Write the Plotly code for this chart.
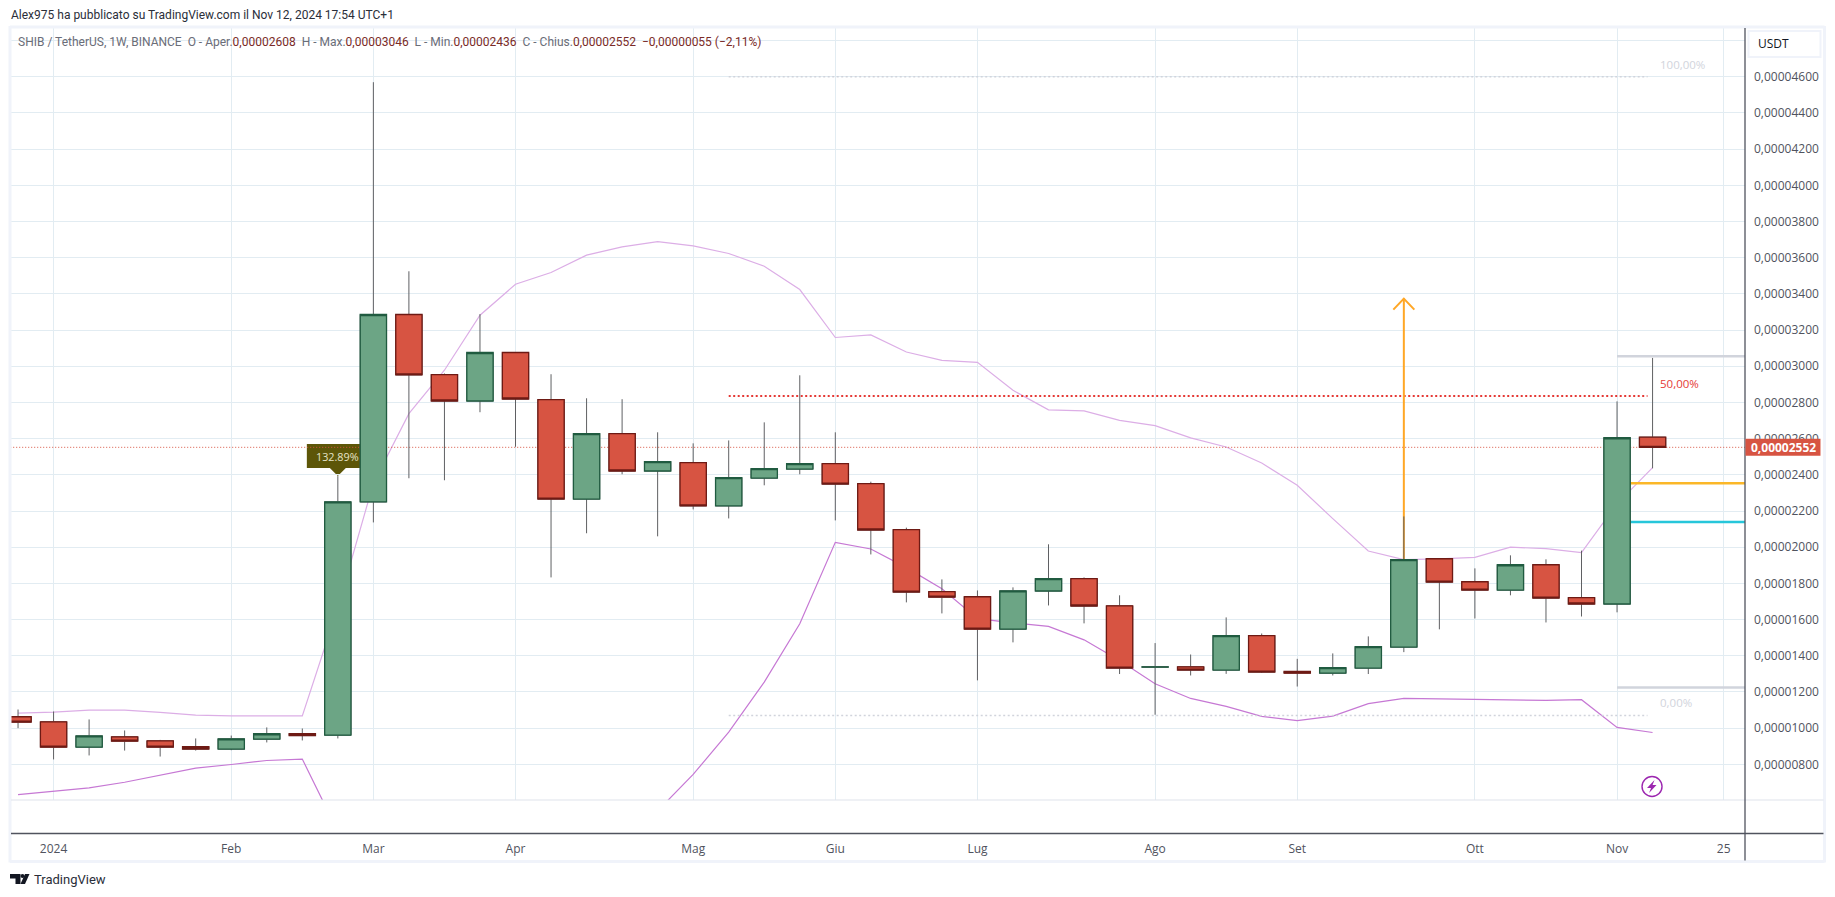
import pandas as pd
import plotly.graph_objects as go

W, H = 1835, 897
L, R, T, B = 10, 1745.5, 27, 800.5
FONT = "Open Sans"
TEXT_FONT = "Roboto"
UNIT = 1e-8

weeks = pd.date_range("2023-12-25", periods=47, freq="7D")
open_u = [1063,1035,895,952,930,897,884,939,970,961,2250,3286,2954,2808,3076,2816,2266,2628,2421,2467,2228,2382,2432,2462,2351,2097,1754,1726,1547,1758,1826,1676,1337,1339,1321,1511,1313,1304,1332,1448,1936,1809,1763,1903,1721,1686,2608]
high_u = [1103,1092,1048,987,935,943,959,1004,998,2393,4570,3525,2960,3288,3076,2956,2823,2818,2635,2574,2590,2690,2950,2635,2362,2108,1822,1761,1778,2016,1833,1734,1470,1407,1612,1523,1383,1413,1507,2170,1936,1883,1955,1933,1981,2806,3046]
low_u = [1000,827,849,876,843,876,878,921,932,943,2137,2381,2370,2746,2555,1833,2077,2403,2060,2209,2159,2342,2403,2148,1960,1695,1634,1264,1474,1678,1579,1299,1074,1291,1300,1306,1230,1291,1299,1420,1546,1606,1734,1584,1617,1640,2436]
close_u = [1033,895,957,928,895,884,941,969,959,2251,3286,2952,2808,3076,2819,2266,2628,2421,2473,2228,2384,2434,2462,2349,2095,1752,1724,1547,1759,1826,1675,1332,1339,1321,1511,1310,1304,1334,1450,1931,1807,1763,1903,1719,1686,2605,2552]
bb_upper_u = [1083,1088,1100,1100,1087,1072,1068,1066,1068,1667,2353,2738,2978,3282,3453,3518,3614,3660,3689,3665,3623,3553,3424,3159,3173,3079,3033,3022,2867,2759,2753,2701,2672,2604,2554,2465,2342,2158,1979,1931,1935,1944,2000,1992,1970,2240,2440]
bb_lower_u = [633,652,670,701,742,779,799,821,829,429,None,None,None,None,None,None,None,None,543,744,978,1254,1577,2027,1990,1887,1770,1605,1582,1562,1488,1374,1245,1164,1120,1065,1041,1066,1135,1164,1162,1159,1153,1153,1157,1004,976]

tick_dates = ["2024-01-01","2024-02-05","2024-03-04","2024-04-01","2024-05-06","2024-06-03","2024-07-01","2024-08-05","2024-09-02","2024-10-07","2024-11-04","2024-11-25"]
tick_labels = ["2024","Feb","Mar","Apr","Mag","Giu","Lug","Ago","Set","Ott","Nov","25"]
y_ticks_u = [800,1000,1200,1400,1600,1800,2000,2200,2400,2600,2800,3000,3200,3400,3600,3800,4000,4200,4400,4600,4800]
y_tick_labels = ["0,00000800","0,00001000","0,00001200","0,00001400","0,00001600","0,00001800","0,00002000","0,00002200","0,00002400","0,00002600","0,00002800","0,00003000","0,00003200","0,00003400","0,00003600","0,00003800","0,00004000","0,00004200","0,00004400","0,00004600",""]

fib_levels_u = [4600, 2836, 1070]
fib_span = ["2024-05-13", "2024-11-10"]
range_levels_u = [3055, 1225]
mid_level_orange_u = 2353
mid_level_cyan_u = 2139
level_span = ["2024-11-04", "2024-12-10"]
arrow_u = [1931, 3374]
arrow_date = "2024-09-23"
last_close_u = 2552

def price(seq):
    return [None if v is None else v * UNIT for v in seq]
def px(x):
    return (x - L) / (R - L)
def py(y):
    return (B - y) / (B - T)

GREEN, GREEN_D = "#6ca585", "#205b40"
RED, RED_D = "#d75442", "#6e1a14"
GRID = "#e2ecf2"
FRAME = "#f0f3fa"
DARK = "#50535e"

fig = go.Figure()

# things behind the candles (main axes)
fig.add_trace(go.Scatter(x=weeks, y=price(bb_upper_u), mode="lines", line=dict(color="#dcaee6", width=1.2), connectgaps=False, hoverinfo="skip"))
fig.add_trace(go.Scatter(x=weeks, y=price(bb_lower_u), mode="lines", line=dict(color="#c678d4", width=1.2), connectgaps=False, hoverinfo="skip"))
fig.add_trace(go.Scatter(x=["2023-12-01", "2024-12-10"], y=price([last_close_u] * 2), mode="lines", line=dict(color=RED, width=1, dash="1px,2px"), hoverinfo="skip"))
fib_colors = ["#d1d4dc", "#e53935", "#d1d4dc"]
fib_widths = [1.5, 2, 1.5]
for lev, col, wid in zip(fib_levels_u, fib_colors, fib_widths):
    fig.add_trace(go.Scatter(x=fib_span, y=price([lev, lev]), mode="lines", line=dict(color=col, width=wid, dash="2px,2.5px"), hoverinfo="skip"))
for lev in range_levels_u:
    fig.add_trace(go.Scatter(x=level_span, y=price([lev, lev]), mode="lines", line=dict(color="#d1d4dc", width=2.5), hoverinfo="skip"))
fig.add_trace(go.Scatter(x=level_span, y=price([mid_level_orange_u] * 2), mode="lines", line=dict(color="#fbb728", width=2.5), hoverinfo="skip"))
fig.add_trace(go.Scatter(x=level_span, y=price([mid_level_cyan_u] * 2), mode="lines", line=dict(color="#26c6da", width=2.5), hoverinfo="skip"))
fig.add_trace(go.Scatter(x=[arrow_date, arrow_date], y=price(arrow_u), mode="lines", line=dict(color="#ffa726", width=2), hoverinfo="skip"))

# wicks, then bodies on an overlay so they hide the bands
fig.add_trace(go.Candlestick(x=weeks, open=price(open_u), high=price(high_u), low=price(low_u), close=price(close_u),
    xaxis="x2", yaxis="y2", whiskerwidth=0, hoverinfo="skip",
    increasing=dict(line=dict(color="#5f6063", width=1), fillcolor=GREEN),
    decreasing=dict(line=dict(color="#5f6063", width=1), fillcolor=RED)))
fig.add_trace(go.Candlestick(x=weeks, open=price(open_u), close=price(close_u),
    high=price([max(a, b) for a, b in zip(open_u, close_u)]),
    low=price([min(a, b) for a, b in zip(open_u, close_u)]),
    xaxis="x2", yaxis="y2", whiskerwidth=0, hoverinfo="skip",
    increasing=dict(line=dict(color=GREEN_D, width=1.3), fillcolor=GREEN),
    decreasing=dict(line=dict(color=RED_D, width=1.3), fillcolor=RED)))

shapes = []
def page_line(x0, y0, x1, y1, color, width):
    shapes.append(dict(type="line", xref="paper", yref="paper", x0=px(x0), y0=py(y0), x1=px(x1), y1=py(y1),
                       line=dict(color=color, width=width), layer="above"))

# frame and separators
page_line(10, 27, 1825, 27, FRAME, 3)
page_line(10, 862, 1825, 862, FRAME, 3)
page_line(10, 26, 10, 863, FRAME, 3)
page_line(1825, 26, 1825, 863, FRAME, 3)
page_line(11, 800.5, 1824, 800.5, "#e0e3eb", 1.2)
page_line(11, 834, 1824, 834, DARK, 1.3)
page_line(1745.5, 28, 1745.5, 861, DARK, 1.3)

# USDT button
shapes.append(dict(type="rect", xref="paper", yref="paper", x0=px(1749), x1=px(1821), y0=py(31), y1=py(57),
                   line=dict(color=FRAME, width=2), fillcolor="white", layer="above"))
# current price tag
shapes.append(dict(type="rect", xref="paper", yref="y", ysizemode="pixel", yanchor=last_close_u * UNIT,
                   x0=px(1746), x1=px(1821), y0=-8.5, y1=8.5, line=dict(width=0), fillcolor=RED, layer="above"))
# percent flag, its tip on the top of the breakout wick
shapes.append(dict(type="path", xref="x", yref="y", xsizemode="pixel", ysizemode="pixel",
                   xanchor=weeks[9], yanchor=high_u[9] * UNIT,
                   path="M0,0 L-8,8 L-31,8 L-31,32 L31,32 L31,8 L8,8 Z",
                   fillcolor="#5d5608", line=dict(width=0), layer="below"))
# arrow head
shapes.append(dict(type="path", xref="x", yref="y", xsizemode="pixel", ysizemode="pixel",
                   xanchor=arrow_date, yanchor=arrow_u[1] * UNIT,
                   path="M-10.5,-11 L0,0 L10.5,-11", line=dict(color="#ffa726", width=2), layer="above"))
# purple bolt icon
shapes.append(dict(type="circle", xref="paper", yref="paper", x0=px(1642.5), x1=px(1662.5), y0=py(777), y1=py(797),
                   line=dict(color="#9c27b0", width=1.4), layer="above"))
def page_path(points):
    return "M" + " L".join(f"{px(x)},{py(y)}" for x, y in points) + " Z"
shapes.append(dict(type="path", xref="paper", yref="paper",
                   path=page_path([(1655, 780.5), (1647.5, 788.5), (1651.5, 788.5), (1649.5, 793.5), (1657, 785.5), (1653, 785.5)]),
                   fillcolor="#9c27b0", line=dict(width=0), layer="above"))
# TradingView mark
shapes.append(dict(type="path", xref="paper", yref="paper",
                   path=page_path([(10, 874.5), (20.5, 874.5), (20.5, 884.5), (15.5, 884.5), (15.5, 879), (10, 879)]),
                   fillcolor="#131722", line=dict(width=0), layer="above"))
shapes.append(dict(type="circle", xref="paper", yref="paper", x0=px(20.5), x1=px(24.5), y0=py(874.5), y1=py(878.5),
                   fillcolor="#131722", line=dict(width=0), layer="above"))
shapes.append(dict(type="path", xref="paper", yref="paper",
                   path=page_path([(25, 874.5), (29.5, 874.5), (25, 884.5), (20.5, 884.5)]),
                   fillcolor="#131722", line=dict(width=0), layer="above"))

def note(text, x, y, size, color, anchor="left", family=FONT):
    return dict(text=text, xref="paper", yref="paper", x=px(x), y=py(y), showarrow=False, xanchor=anchor, yanchor="middle",
                align=anchor, font=dict(family=family, size=size, color=color))

grey = "#6a6d78"
val = "#7a2b27"
sp = "\u00a0\u00a0"
def v(t):
    return f'<span style="color:{val}">{t}</span>'
legend_text = (f"SHIB / TetherUS, 1W, BINANCE{sp}O - Aper.{v('0,00002608')}{sp}H - Max.{v('0,00003046')}{sp}"
               f"L - Min.{v('0,00002436')}{sp}C - Chius.{v('0,00002552')}{sp}{v('−0,00000055 (−2,11%)')}")

annotations = [
    note("Alex975 ha pubblicato su TradingView.com il Nov 12, 2024 17:54 UTC+1", 9, 15, 12, "#2a2e39", family=TEXT_FONT),
    note(legend_text, 16.5, 42, 12, grey, family=TEXT_FONT),
    note("USDT", 1757, 44, 12, "#131722"),
    note("100,00%", 1658, 65, 11.5, "#d1d4dc"),
    note("50,00%", 1658, 384, 11.5, "#e53935"),
    note("0,00%", 1658, 703, 11.5, "#d1d4dc"),
    note("TradingView", 32, 880, 13, "#2a2e39", family=TEXT_FONT),
    dict(text="<b>0,00002552</b>", xref="paper", yref="y", x=px(1784), y=last_close_u * UNIT, showarrow=False, xanchor="center",
         yanchor="middle", font=dict(family=FONT, size=12, color="white")),
    dict(text="132.89%", xref="x", yref="y", x=weeks[9], y=high_u[9] * UNIT, yshift=20, showarrow=False, xanchor="center",
         yanchor="middle", font=dict(family=FONT, size=10.8, color="#e6e4c8")),
]

x_range = ["2023-12-23 10:00", "2024-11-29 05:00"]
y_range = [602.8 * UNIT, 4875 * UNIT]

fig.update_layout(
    width=W, height=H, autosize=False,
    margin=dict(l=L, r=W - R, t=T, b=H - B, pad=0),
    paper_bgcolor="white", plot_bgcolor="white", showlegend=False,
    separators=",.", boxgap=0.26, boxgroupgap=0,
    dragmode=False,
    font=dict(family=FONT, size=12, color=DARK),
    xaxis=dict(type="date", range=x_range, tickvals=tick_dates, ticktext=tick_labels, tickangle=0,
               showgrid=True, gridcolor=GRID, gridwidth=1, zeroline=False, showline=False,
               ticks="", ticklabelstandoff=40, rangeslider=dict(visible=False),
               tickfont=dict(family=FONT, size=12, color=DARK)),
    yaxis=dict(side="right", range=y_range, tickmode="array", tickvals=price(y_ticks_u), ticktext=y_tick_labels,
               showgrid=True, gridcolor=GRID, gridwidth=1, zeroline=False, showline=False,
               ticks="", ticklabelstandoff=8, tickfont=dict(family=FONT, size=12, color=DARK)),
    xaxis2=dict(type="date", overlaying="x", matches="x", visible=False, rangeslider=dict(visible=False)),
    yaxis2=dict(overlaying="y", matches="y", visible=False),
    shapes=shapes, annotations=annotations,
)

fig.write_html("out.html", config=dict(displayModeBar=False),
               post_script="document.body.style.margin='0';document.body.style.overflow='hidden';window.dispatchEvent(new Event('resize'));")
